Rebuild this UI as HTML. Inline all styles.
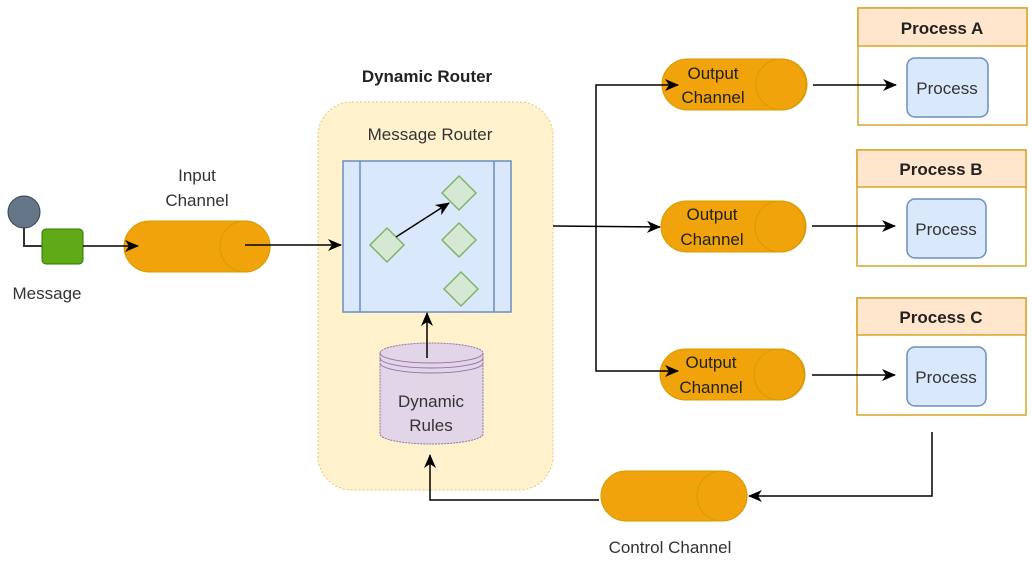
<!DOCTYPE html>
<html><head><meta charset="utf-8"><style>
html,body{margin:0;padding:0;background:#fff;}
svg{display:block;}
text{font-family:"Liberation Sans",sans-serif;font-size:17px;fill:#333;}
</style></head><body>
<svg width="1032" height="561" viewBox="0 0 1032 561" xmlns="http://www.w3.org/2000/svg">
<defs>
<marker id="a" markerWidth="16" markerHeight="16" refX="13" refY="7" orient="auto" markerUnits="userSpaceOnUse">
<path d="M0,1 L14,7 L0,13 L4,7 Z" fill="#000"/>
</marker>
</defs>
<path d="M24,228 V246 H42" stroke="#333" stroke-width="2" fill="none"/>
<circle cx="24" cy="212" r="16" fill="#647687" stroke="#314354"/>
<rect x="42" y="229" width="41" height="35" rx="4" fill="#60a917" stroke="#2d7600"/>
<text x="47" y="299" text-anchor="middle">Message</text>
<rect x="124" y="221" width="146" height="51" rx="25.5" fill="#f0a30a" stroke="#d79b00"/>
<ellipse cx="245" cy="246.5" rx="25" ry="25.5" fill="#f0a30a" stroke="#d79b00"/>
<text x="197" y="181" text-anchor="middle">Input</text>
<text x="197" y="206" text-anchor="middle">Channel</text>
<text x="427" y="82" text-anchor="middle" style="font-weight:bold;fill:#222">Dynamic Router</text>
<rect x="318" y="102" width="235" height="388" rx="34" fill="#fff2cc" stroke="#e5c77a" stroke-dasharray="2,2"/>
<text x="430" y="140" text-anchor="middle">Message Router</text>
<rect x="343" y="161" width="168" height="151" fill="#dae8fc" stroke="#6c8ebf" stroke-width="1.5"/>
<line x1="360" y1="161" x2="360" y2="312" stroke="#6c8ebf" stroke-width="1.5"/>
<line x1="494" y1="161" x2="494" y2="312" stroke="#6c8ebf" stroke-width="1.5"/>
<g fill="#d5e8d4" stroke="#82b366" stroke-width="1.5">
<path d="M387,228 L404,245 L387,262 L370,245 Z"/>
<path d="M459,176 L476,193 L459,210 L442,193 Z"/>
<path d="M459,223 L476,240 L459,257 L442,240 Z"/>
<path d="M461,272 L478,289 L461,306 L444,289 Z"/>
</g>
<path d="M380,353 A51.5,10 0 0 1 483,353 V434 A51.5,10 0 0 1 380,434 Z" fill="#e1d5e7" stroke="#9673a6" stroke-dasharray="2,1"/>
<path d="M380,353 A51.5,10 0 0 0 483,353 M380,358 A51.5,10 0 0 0 483,358 M380,363 A51.5,10 0 0 0 483,363" fill="none" stroke="#9673a6"/>
<text x="431" y="407" text-anchor="middle">Dynamic</text>
<text x="431" y="431" text-anchor="middle">Rules</text>
<rect x="662" y="59" width="145" height="51" rx="25.5" fill="#f0a30a" stroke="#d79b00"/>
<ellipse cx="781" cy="84.5" rx="25" ry="25.5" fill="#f0a30a" stroke="#d79b00"/>
<rect x="661" y="201" width="145" height="51" rx="25.5" fill="#f0a30a" stroke="#d79b00"/>
<ellipse cx="780" cy="226.5" rx="25" ry="25.5" fill="#f0a30a" stroke="#d79b00"/>
<rect x="660" y="349" width="145" height="51" rx="25.5" fill="#f0a30a" stroke="#d79b00"/>
<ellipse cx="779" cy="374.5" rx="25" ry="25.5" fill="#f0a30a" stroke="#d79b00"/>
<g stroke="#d6a62a" stroke-width="1.5">
<rect x="858" y="8" width="169" height="117" fill="#fff"/>
<rect x="858" y="8" width="169" height="38" fill="#ffe6cc"/>
<rect x="857" y="150" width="169" height="116" fill="#fff"/>
<rect x="857" y="150" width="169" height="37" fill="#ffe6cc"/>
<rect x="857" y="298" width="169" height="117" fill="#fff"/>
<rect x="857" y="298" width="169" height="37" fill="#ffe6cc"/>
</g>
<text x="942" y="34" text-anchor="middle" style="font-weight:bold;fill:#222">Process A</text>
<text x="941" y="175" text-anchor="middle" style="font-weight:bold;fill:#222">Process B</text>
<text x="941" y="323" text-anchor="middle" style="font-weight:bold;fill:#222">Process C</text>
<g fill="#dae8fc" stroke="#6c8ebf" stroke-width="1.5">
<rect x="907" y="58" width="81" height="59" rx="8"/>
<rect x="907" y="199" width="79" height="59" rx="8"/>
<rect x="907" y="347" width="79" height="59" rx="8"/>
</g>
<text x="947" y="94" text-anchor="middle">Process</text>
<text x="946" y="235" text-anchor="middle">Process</text>
<text x="946" y="383" text-anchor="middle">Process</text>
<rect x="601" y="471" width="146" height="50" rx="25" fill="#f0a30a" stroke="#d79b00"/>
<ellipse cx="722" cy="496" rx="25" ry="25" fill="#f0a30a" stroke="#d79b00"/>
<text x="670" y="553" text-anchor="middle">Control Channel</text>
<line x1="83" y1="246" x2="138" y2="246" stroke="#000" stroke-width="1.5" marker-end="url(#a)"/>
<line x1="245" y1="245" x2="341" y2="245" stroke="#000" stroke-width="1.5" marker-end="url(#a)"/>
<line x1="396" y1="237" x2="449" y2="203" stroke="#000" stroke-width="1.5" marker-end="url(#a)"/>
<line x1="427" y1="358" x2="427" y2="313" stroke="#000" stroke-width="1.5" marker-end="url(#a)"/>
<line x1="553" y1="226" x2="660" y2="227" stroke="#000" stroke-width="1.5" marker-end="url(#a)"/>
<path d="M596,227 V85 H678" stroke="#000" stroke-width="1.5" fill="none" marker-end="url(#a)"/>
<path d="M596,227 V371 H678" stroke="#000" stroke-width="1.5" fill="none" marker-end="url(#a)"/>
<line x1="813" y1="85" x2="896" y2="85" stroke="#000" stroke-width="1.5" marker-end="url(#a)"/>
<line x1="812" y1="226" x2="895" y2="226" stroke="#000" stroke-width="1.5" marker-end="url(#a)"/>
<line x1="812" y1="375" x2="895" y2="375" stroke="#000" stroke-width="1.5" marker-end="url(#a)"/>
<path d="M932,432 V496 H749" stroke="#000" stroke-width="1.5" fill="none" marker-end="url(#a)"/>
<path d="M599,500 H430 V455" stroke="#000" stroke-width="1.5" fill="none" marker-end="url(#a)"/>
<text x="713" y="79" text-anchor="middle" style="fill:#222">Output</text>
<text x="713" y="103" text-anchor="middle" style="fill:#222">Channel</text>
<text x="712" y="220" text-anchor="middle" style="fill:#222">Output</text>
<text x="712" y="245" text-anchor="middle" style="fill:#222">Channel</text>
<text x="711" y="368" text-anchor="middle" style="fill:#222">Output</text>
<text x="711" y="393" text-anchor="middle" style="fill:#222">Channel</text>
</svg>
</body></html>
